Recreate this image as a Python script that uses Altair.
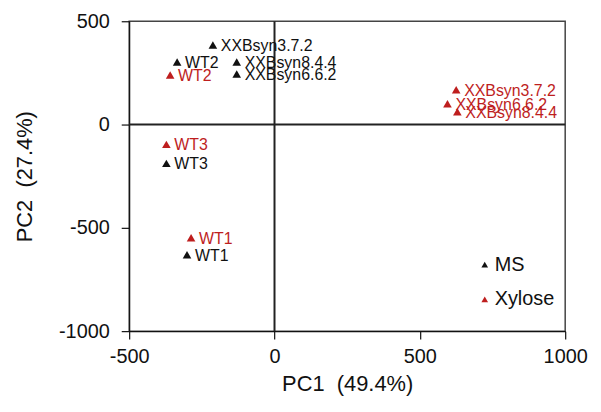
import altair as alt
import pandas as pd

# Scores
labels = ["XXBsyn3.7.2", "WT2", "XXBsyn8.4.4", "XXBsyn6.6.2", "WT3", "WT1",
          "WT2", "WT3", "WT1", "XXBsyn3.7.2", "XXBsyn6.6.2", "XXBsyn8.4.4"]
groups = ["MS"] * 6 + ["Xylose"] * 6
pc1 = [-212, -335, -130, -130, -372, -301,
       -359, -372, -287, 625, 595, 629]
pc2 = [385, 303, 303, 245, -188, -630,
       240, -96, -548, 168, 101, 62]

x_ticks = [-500, 0, 500, 1000]
y_ticks = [-1000, -500, 0, 500]

df = pd.DataFrame({"label": labels, "group": groups, "pc1": pc1, "pc2": pc2})

FONT = "Liberation Sans"
RED = "#BE1E1E"
color_scale = alt.Scale(domain=["MS", "Xylose"], range=["#111111", RED])

xs = alt.Scale(domain=[-500, 1000], nice=False, zero=False)
ys = alt.Scale(domain=[-1000, 500], nice=False, zero=False)

base = alt.Chart(df)

points = base.mark_point(shape="triangle-up", filled=True, size=75, opacity=1).encode(
    x=alt.X("pc1:Q", scale=xs,
            axis=alt.Axis(values=x_ticks, title="PC1\u00a0\u00a0(49.4%)", grid=False,
                          labelFlush=False, tickSize=8, labelPadding=8, titlePadding=7,
                          labelExpr="'' + datum.value")),
    y=alt.Y("pc2:Q", scale=ys,
            axis=alt.Axis(values=y_ticks, title="PC2\u00a0\u00a0(27.4%)", grid=False,
                          labelFlush=False, tickSize=8, labelPadding=12, titlePadding=22,
                          labelExpr="'' + datum.value")),
    color=alt.Color("group:N", scale=color_scale,
                    legend=alt.Legend(title=None, orient="none", legendX=348, legendY=235,
                                      symbolType="triangle-up", symbolSize=45,
                                      labelFontSize=20, labelFont=FONT, rowPadding=15,
                                      labelOffset=0, labelColor="#111111",
                                      symbolStrokeWidth=0)),
)

texts = base.mark_text(align="left", baseline="middle", dx=8, dy=1, fontSize=16, font=FONT).encode(
    x=alt.X("pc1:Q", scale=xs),
    y=alt.Y("pc2:Q", scale=ys),
    text="label:N",
    color=alt.Color("group:N", scale=color_scale, legend=None),
)

zero_df = pd.DataFrame({"v": [0]})
vrule = alt.Chart(zero_df).mark_rule(color="#222222", strokeWidth=2).encode(
    x=alt.X("v:Q", scale=xs))
hrule = alt.Chart(zero_df).mark_rule(color="#222222", strokeWidth=2).encode(
    y=alt.Y("v:Q", scale=ys))

chart = alt.layer(vrule, hrule, points, texts).properties(
    width=439, height=312,
    padding={"left": 5, "top": 2, "right": 5, "bottom": 5},
).configure_view(
    stroke="#444444", strokeWidth=1.5
).configure_axis(
    labelFont=FONT, titleFont=FONT, labelFontSize=20, titleFontSize=22,
    labelColor="#111111", titleColor="#111111", titleFontWeight="normal",
    domainColor="#111111", tickColor="#111111", domainWidth=1.2, tickWidth=1.2,
)

chart.save("out.html", embed_options={"renderer": "svg", "actions": False})
